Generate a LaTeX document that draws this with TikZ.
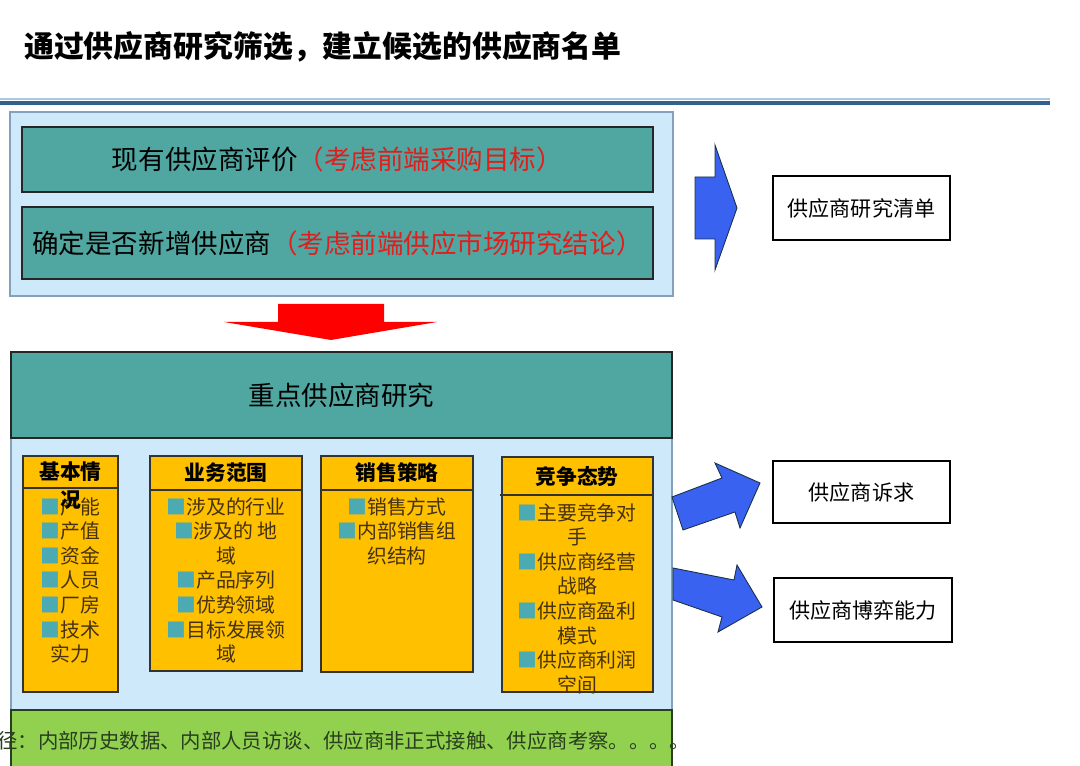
\documentclass[tikz,border=0pt]{standalone}
\usepackage{fontspec}
\setmainfont{Noto Sans CJK SC}
\usetikzlibrary{positioning}

\definecolor{tealbar}{RGB}{80,166,160}
\definecolor{pale}{RGB}{206,234,250}
\definecolor{gold}{RGB}{255,192,0}
\definecolor{leaf}{RGB}{146,208,80}
\definecolor{royal}{RGB}{58,98,240}
\definecolor{navy}{RGB}{52,96,140}
\definecolor{skyrule}{RGB}{170,200,225}
\definecolor{alert}{RGB}{225,30,30}
\definecolor{bullet}{RGB}{75,170,178}
\definecolor{ink}{RGB}{70,50,15}
\definecolor{moss}{RGB}{40,62,30}
\newcommand{\sq}{{\color{bullet}■}}

\begin{document}
\begin{tikzpicture}[
        x=0.02cm, y=-0.02cm,
        sized/.style 2 args={minimum width=#1*0.02cm, minimum height=#2*0.02cm},
        panel/.style={rectangle, draw=navy!60, line width=0.6pt, fill=pale, inner sep=0pt},
        bar/.style={rectangle, draw=black!85, line width=0.8pt, fill=tealbar, inner sep=0pt, font=\fontsize{15.1}{18}\selectfont},
        ybox/.style={rectangle, draw=black!80, line width=0.8pt, fill=gold, inner sep=0pt},
        hdr/.style={inner sep=0pt, font=\fontsize{11.8}{14}\selectfont\bfseries},
        items/.style={inner sep=0pt, align=center, text=ink, font=\fontsize{11.3}{14}\selectfont},
        outbox/.style={rectangle, draw=black, line width=1.1pt, fill=white, inner sep=0pt, font=\fontsize{12}{14}\selectfont},
        blockarrow/.style={fill=royal, draw=navy!50!black, line width=0.5pt}
    ]
        \useasboundingbox (0,0) rectangle (1080,766);

        % Title and rule
        \node[anchor=west, font=\fontsize{17}{20}\selectfont\bfseries] (title) at (18,47) {通过供应商研究筛选，建立候选的供应商名单};
        \draw[skyrule, line width=0.8pt] (0,99) -- (1050,99);
        \draw[navy, line width=2.4pt] (0,103) -- (1050,103);

        % Screening panel
        \node[panel, sized={663}{184}] (screen) at (341.5,204) {};
        \node[bar, sized={631}{65}] (review) at (337.5,159.5) {现有供应商评价{\color{alert}（考虑前端采购目标）}};
        \node[bar, sized={631}{72}] (decide) at (337.5,243) {确定是否新增供应商{\color{alert}（考虑前端供应市场研究结论）}};

        % Red arrow down
        \fill[red] (278,304) -- (384,304) -- (384,322) -- (437,322) -- (331,340) -- (224,322) -- (278,322) -- cycle;

        % Key supplier research panel
        \node[panel, sized={661}{272}] (study) at (341.5,574) {};
        \fill[leaf, draw=moss, line width=0.6pt] (11,710) rectangle (672,780);
        \node[bar, sized={661}{86}] (focus) at (341.5,395) {重点供应商研究};

        % Yellow boxes
        \node[ybox, sized={95}{236}] (basic) at (70.5,574) {};
        \node[ybox, sized={152}{215}] (scope) at (226,563.5) {};
        \node[ybox, sized={152}{216}] (sales) at (397,564) {};
        \node[ybox, sized={151}{235}] (rival) at (577.5,574.5) {};
        \draw[black!80, line width=0.8pt] (23,488) -- (118,488);
        \draw[black!80, line width=0.8pt] (150,490) -- (302,490);
        \draw[black!80, line width=0.8pt] (321,490) -- (473,490);
        \draw[black!80, line width=0.8pt] (500,495) -- (653,495);

        % Headers
        \node[hdr] (basich) at (70.5,472) {基本情};
        \node[hdr] (scopeh) at (226,473) {业务范围};
        \node[hdr] (salesh) at (397,473) {销售策略};
        \node[hdr] (rivalh) at (577,477) {竞争态势};

        % Items
        \node[items, anchor=north] (basicb) at (70.5,497) {\sq 产能\\\sq 产值\\\sq 资金\\\sq 人员\\\sq 厂房\\\sq 技术\\实力};
        \node[hdr] (basich2) at (71,500) {况};
        \node[items, anchor=north] (scopeb) at (226,497) {\sq 涉及的行业\\\sq 涉及的 地\\域\\\sq 产品序列\\\sq 优势领域\\\sq 目标发展领\\域};
        \node[items, anchor=north] (salesb) at (397,497) {\sq 销售方式\\\sq 内部销售组\\织结构};
        \node[items, anchor=north] (rivalb) at (577,503) {\sq 主要竞争对\\手\\\sq 供应商经营\\战略\\\sq 供应商盈利\\模式\\\sq 供应商利润\\空间};

        % Sources
        \node[anchor=west, inner sep=0pt, text=moss, font=\fontsize{11.6}{14}\selectfont] (source) at (-3,741) {径：内部历史数据、内部人员访谈、供应商非正式接触、供应商考察。。。。};

        % Blue arrows
        \draw[blockarrow] (695,177) -- (715,177) -- (715,145) -- (737,208) -- (715,270) -- (715,239) -- (695,239) -- cycle;
        \draw[blockarrow] (672,497) -- (722,478) -- (715,463) -- (760,483) -- (740,528) -- (735,512) -- (683,530) -- cycle;
        \draw[blockarrow] (673,568) -- (734,580) -- (737,565) -- (762,607) -- (718,632) -- (722,617) -- (673,600) -- cycle;

        % Outputs
        \node[outbox, sized={177}{64}] (slist) at (861.5,208) {供应商研究清单};
        \node[outbox, sized={177}{62}] (sneed) at (861.5,492) {供应商诉求};
        \node[outbox, sized={178}{64}] (sgame) at (863,610) {供应商博弈能力};
    \end{tikzpicture}
\end{document}
